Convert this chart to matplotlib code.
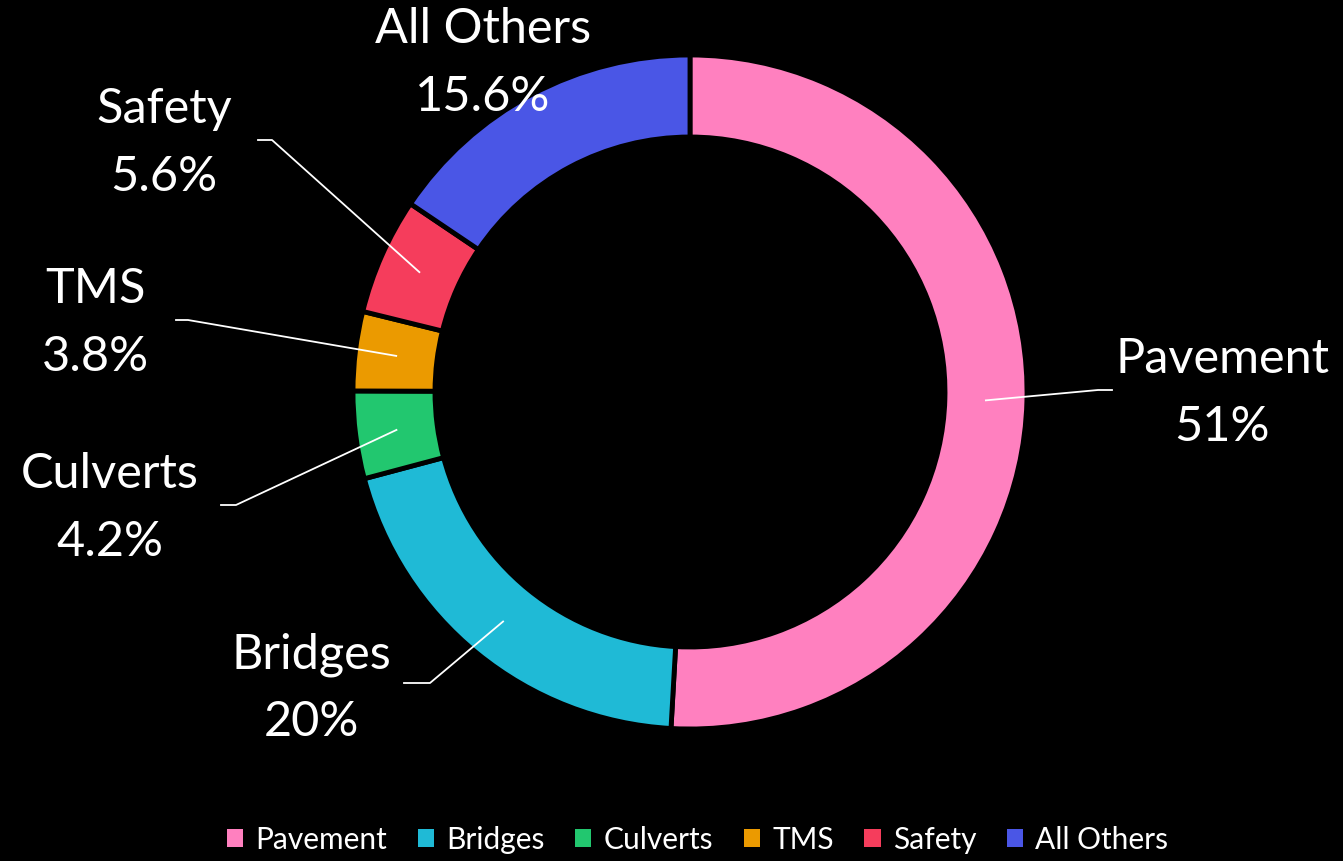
import numpy as np
import matplotlib
matplotlib.use("Agg")
import matplotlib.pyplot as plt
from matplotlib.patches import Patch

categories = ["Pavement", "Bridges", "Culverts", "TMS", "Safety", "All Others"]
values = [51.0, 20.0, 4.2, 3.8, 5.6, 15.6]
pct_labels = ["51%", "20%", "4.2%", "3.8%", "5.6%", "15.6%"]
colors = ["#FF80BF", "#1FBAD6", "#22C76F", "#EB9A00", "#F53D5C", "#4A56E6"]

plt.rcParams['font.family'] = ['Lato', 'DejaVu Sans']

W, H = 1343, 861
fig = plt.figure(figsize=(W / 100, H / 100), dpi=100, facecolor="black")
ax = fig.add_axes([0, 0, 1, 1])
ax.set_facecolor("black")
ax.set_xlim(0, W)
ax.set_ylim(0, H)
ax.set_aspect("equal")
ax.axis("off")

cx, cy = 690, H - 392
R = 337
width = 82

wedges, _ = ax.pie(values, colors=colors, startangle=90, counterclock=False,
                   radius=R, center=(cx, cy), normalize=True,
                   wedgeprops=dict(width=width, edgecolor="black", linewidth=3.5))
ax.set_xlim(0, W)
ax.set_ylim(0, H)

# label layout (pixel coords, y from top): elbow point, end point, text centre
layout = {
    "Pavement": ((1098, 390), (1112, 390), (1222, 393)),
    "Bridges": ((430, 683), (404, 683), (311, 688)),
    "Culverts": ((236, 505), (221, 505), (110, 508)),
    "TMS": ((188, 320), (176, 320), (95, 323)),
    "Safety": ((272, 140), (258, 140), (164, 143)),
    "All Others": (None, None, (483, 63)),
}

rmid = R - width / 2
for w, cat, pl in zip(wedges, categories, pct_labels):
    ang = np.deg2rad((w.theta1 + w.theta2) / 2)
    ax_, ay_ = cx + rmid * np.cos(ang), cy + rmid * np.sin(ang)
    elbow, end, tc = layout[cat]
    if elbow is not None:
        ax.plot([ax_, elbow[0], end[0]], [ay_, H - elbow[1], H - end[1]],
                color="white", lw=1.3, zorder=5)
    ax.text(tc[0], H - tc[1], f"{cat}\n{pl}", color="white", fontsize=35,
            ha="center", va="center", linespacing=1.65, zorder=6)

handles = [Patch(facecolor=c, edgecolor="none") for c in colors]
leg = fig.legend(handles, categories, loc="center", bbox_to_anchor=(0.5194, 1 - 840 / H),
                 ncol=6, frameon=False, fontsize=21.5, labelcolor="white",
                 handlelength=0.55, handleheight=0.55, handletextpad=0.4, columnspacing=1.03)

fig.savefig("out.png", dpi=100, facecolor="black")
